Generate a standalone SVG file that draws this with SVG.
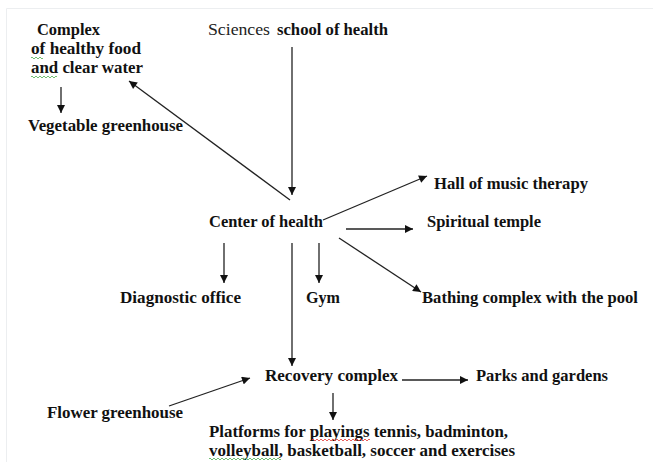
<svg xmlns="http://www.w3.org/2000/svg" width="653" height="462" viewBox="0 0 653 462">
<defs>
<marker id="ah" viewBox="0 0 10 10" refX="10" refY="5" markerWidth="9" markerHeight="8" markerUnits="userSpaceOnUse" orient="auto">
<path d="M0,0 L10,5 L0,10 Z" fill="#111"/>
</marker>
<style>
.t{font-family:"Liberation Serif","Times New Roman",serif;font-weight:bold;font-size:16.5px;fill:#111}
.s{font-family:"Liberation Serif","Times New Roman",serif;font-size:17.5px;fill:#222}
.c{stroke:#222;stroke-width:1.3;fill:none;marker-end:url(#ah)}
.sq{fill:none;stroke-width:0.8}
</style>
</defs>
<rect x="0" y="0" width="653" height="462" fill="#fff"/>
<path d="M6.5,462 V8.5 H653" fill="none" stroke="#eceef0" stroke-width="1"/>
<g id="connectors">
<line class="c" x1="61" y1="87" x2="61" y2="113"/>
<line class="c" x1="290" y1="200" x2="129" y2="81"/>
<line class="c" x1="292" y1="47" x2="292" y2="195"/>
<line class="c" x1="323" y1="220" x2="427" y2="176"/>
<line class="c" x1="346" y1="229" x2="413" y2="229"/>
<line class="c" x1="339" y1="238" x2="421" y2="292"/>
<line class="c" x1="224" y1="243" x2="224" y2="283"/>
<line class="c" x1="319" y1="243" x2="319" y2="283"/>
<line class="c" x1="292" y1="243" x2="292" y2="366"/>
<line class="c" x1="402" y1="380" x2="468" y2="380"/>
<line class="c" x1="169" y1="406" x2="250" y2="378"/>
<line class="c" x1="333" y1="393" x2="333" y2="420"/>
</g>
<g id="complex-food">
<text class="t" x="37" y="35" textLength="63" lengthAdjust="spacingAndGlyphs">Complex</text>
<text class="t" x="31" y="54" textLength="110" lengthAdjust="spacingAndGlyphs">of healthy food</text>
<text class="t" x="31" y="73" textLength="112" lengthAdjust="spacingAndGlyphs">and clear water</text>
<path class="sq" stroke="#4caf50" d="M31,58 q1,-2 2,0 t2,0 t2,0 t2,0 t2,0 t2,0"/>
<path class="sq" stroke="#4caf50" d="M31,77 q1,-2 2,0 t2,0 t2,0 t2,0 t2,0 t2,0 t2,0 t2,0 t2,0 t2,0 t2,0 t2,0 t2,0"/>
</g>
<g id="vegetable-greenhouse">
<text class="t" x="28" y="131" textLength="155" lengthAdjust="spacingAndGlyphs">Vegetable greenhouse</text>
</g>
<g id="school">
<text class="s" x="208" y="35" textLength="62" lengthAdjust="spacingAndGlyphs">Sciences</text>
<text class="t" x="277" y="35" textLength="111" lengthAdjust="spacingAndGlyphs">school of health</text>
</g>
<g id="center">
<text class="t" x="209" y="227" textLength="114" lengthAdjust="spacingAndGlyphs">Center of health</text>
</g>
<g id="music">
<text class="t" x="434" y="189" textLength="154" lengthAdjust="spacingAndGlyphs">Hall of music therapy</text>
</g>
<g id="temple">
<text class="t" x="427" y="227" textLength="114" lengthAdjust="spacingAndGlyphs">Spiritual temple</text>
</g>
<g id="bathing">
<text class="t" x="422" y="303" textLength="216" lengthAdjust="spacingAndGlyphs">Bathing complex with the pool</text>
</g>
<g id="diagnostic">
<text class="t" x="120" y="303" textLength="121" lengthAdjust="spacingAndGlyphs">Diagnostic office</text>
</g>
<g id="gym">
<text class="t" x="306" y="303" textLength="34" lengthAdjust="spacingAndGlyphs">Gym</text>
</g>
<g id="recovery">
<text class="t" x="265" y="381" textLength="133" lengthAdjust="spacingAndGlyphs">Recovery complex</text>
</g>
<g id="parks">
<text class="t" x="476" y="381" textLength="132" lengthAdjust="spacingAndGlyphs">Parks and gardens</text>
</g>
<g id="flower">
<text class="t" x="47" y="418" textLength="136" lengthAdjust="spacingAndGlyphs">Flower greenhouse</text>
</g>
<g id="platforms">
<text class="t" x="209" y="437" textLength="299" lengthAdjust="spacingAndGlyphs">Platforms for playings tennis, badminton,</text>
<text class="t" x="209" y="456" textLength="306" lengthAdjust="spacingAndGlyphs">volleyball, basketball, soccer and exercises</text>
<path class="sq" stroke="#e53935" d="M312,440 q1,-2 2,0 t2,0 t2,0 t2,0 t2,0 t2,0 t2,0 t2,0 t2,0 t2,0 t2,0 t2,0 t2,0 t2,0 t2,0 t2,0 t2,0 t2,0 t2,0 t2,0 t2,0 t2,0 t2,0 t2,0 t2,0 t2,0 t2,0 t2,0 t2,0"/>
<path class="sq" stroke="#4caf50" d="M209,459 q1,-2 2,0 t2,0 t2,0 t2,0 t2,0 t2,0 t2,0 t2,0 t2,0 t2,0 t2,0 t2,0 t2,0 t2,0 t2,0 t2,0 t2,0 t2,0 t2,0 t2,0 t2,0 t2,0 t2,0 t2,0 t2,0 t2,0 t2,0 t2,0 t2,0 t2,0 t2,0 t2,0 t2,0 t2,0 t2,0 t2,0"/>
</g>
</svg>
